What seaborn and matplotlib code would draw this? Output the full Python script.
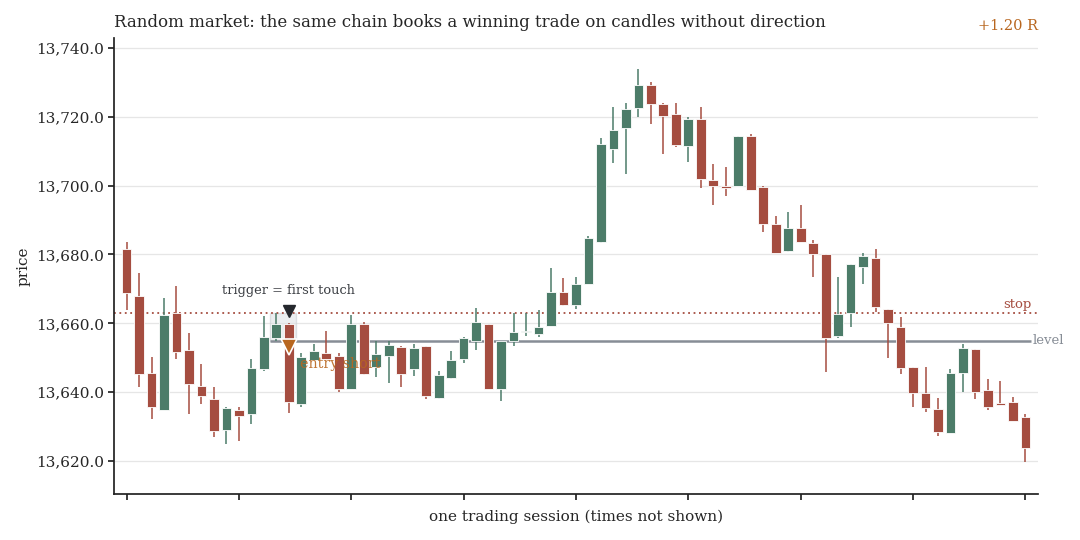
import numpy as np
import matplotlib
matplotlib.use("Agg")
import matplotlib.pyplot as plt
from matplotlib.ticker import FuncFormatter, MultipleLocator
from matplotlib.patches import Rectangle
import seaborn as sns

# -----------------------------------------------------------
# Data
# -----------------------------------------------------------
opens = [13681.6, 13667.9, 13645.5, 13634.8, 13663.1, 13652.3, 13641.9, 13638.0, 13629.0, 13634.8,
         13633.7, 13646.8, 13655.7, 13659.8, 13636.6, 13649.4, 13651.5, 13650.5, 13641.0, 13659.8,
         13647.4, 13650.6, 13653.1, 13646.6, 13653.3, 13638.4, 13644.2, 13649.7, 13655.0, 13659.8,
         13641.0, 13655.0, 13657.4, 13656.8, 13659.3, 13669.1, 13665.3, 13671.4, 13683.7, 13710.6,
         13716.7, 13722.7, 13729.2, 13723.7, 13720.8, 13711.6, 13719.3, 13701.6, 13700.0, 13699.9,
         13714.4, 13699.6, 13688.9, 13681.1, 13687.6, 13683.2, 13680.0, 13656.4, 13662.9, 13676.5,
         13678.9, 13664.1, 13658.8, 13647.2, 13639.7, 13635.1, 13628.0, 13645.5, 13652.5, 13640.6,
         13636.8, 13637.1, 13632.7]
highs = [13683.7, 13674.5, 13650.1, 13667.3, 13670.7, 13657.3, 13648.1, 13641.6, 13635.8, 13635.8,
         13649.5, 13662.1, 13662.9, 13660.2, 13651.3, 13653.9, 13657.8, 13651.3, 13662.4, 13660.5,
         13655.0, 13655.0, 13653.5, 13654.0, 13653.5, 13646.2, 13651.9, 13655.9, 13664.4, 13659.8,
         13655.0, 13662.9, 13663.1, 13663.9, 13676.0, 13673.1, 13673.6, 13685.5, 13713.9, 13722.8,
         13723.9, 13733.8, 13730.2, 13723.9, 13724.1, 13719.9, 13722.8, 13706.2, 13705.3, 13714.4,
         13714.9, 13699.9, 13691.2, 13692.4, 13694.4, 13684.2, 13680.1, 13673.4, 13677.2, 13680.3,
         13681.5, 13664.1, 13661.9, 13647.4, 13647.2, 13638.2, 13646.7, 13654.0, 13652.5, 13643.8,
         13643.3, 13638.7, 13633.7]
lows = [13663.9, 13641.4, 13632.1, 13634.8, 13649.5, 13633.6, 13636.5, 13626.9, 13625.0, 13625.9,
        13630.7, 13646.1, 13654.9, 13634.0, 13635.6, 13649.4, 13649.6, 13639.9, 13641.0, 13645.0,
        13644.3, 13642.6, 13641.6, 13644.7, 13638.0, 13638.0, 13643.9, 13648.4, 13652.3, 13640.8,
        13637.5, 13653.5, 13656.3, 13655.9, 13659.3, 13665.0, 13664.2, 13671.4, 13683.4, 13706.5,
        13703.3, 13719.9, 13717.9, 13709.1, 13711.3, 13706.8, 13699.2, 13694.4, 13697.0, 13699.9,
        13698.7, 13686.4, 13680.3, 13680.8, 13683.5, 13673.6, 13645.9, 13655.6, 13659.0, 13671.4,
        13663.4, 13649.8, 13645.3, 13635.8, 13634.3, 13627.3, 13628.0, 13639.9, 13637.9, 13634.8,
        13636.3, 13631.7, 13619.6]
closes = [13668.7, 13645.3, 13635.8, 13662.4, 13651.8, 13642.4, 13639.0, 13628.7, 13635.5, 13633.2,
          13647.1, 13656.0, 13659.8, 13637.1, 13650.3, 13652.0, 13649.6, 13640.9, 13659.8, 13645.2,
          13651.0, 13653.6, 13645.4, 13652.7, 13639.0, 13644.9, 13649.3, 13655.6, 13660.4, 13641.0,
          13655.0, 13657.5, 13657.6, 13658.9, 13669.1, 13665.3, 13671.4, 13684.7, 13712.1, 13716.2,
          13722.3, 13729.2, 13723.6, 13720.1, 13711.8, 13719.3, 13701.8, 13700.0, 13699.4, 13714.4,
          13698.7, 13689.0, 13680.3, 13687.6, 13683.5, 13680.0, 13655.6, 13662.7, 13677.1, 13679.6,
          13664.6, 13660.0, 13646.9, 13639.7, 13635.5, 13628.5, 13645.5, 13652.7, 13639.9, 13635.8,
          13636.3, 13631.7, 13623.7]

level = 13655.0
stop = 13663.0
trigger_bar = 13
entry_price = 13653.0
result_r = "+1.20 R"

# -----------------------------------------------------------
# Style
# -----------------------------------------------------------
sns.set_theme(style="ticks")
plt.rcParams['font.family'] = ['DejaVu Serif']

UP = "#4c7c69"
DOWN = "#a54d40"
ORANGE = "#b8661f"
GREY = "#878d96"

o = np.array(opens)
h = np.array(highs)
l = np.array(lows)
c = np.array(closes)
x = np.arange(len(o))
colors = [UP if cc >= oo else DOWN for oo, cc in zip(o, c)]

fig, ax = plt.subplots(figsize=(10.8, 5.4), dpi=100)
fig.subplots_adjust(left=0.1056, right=0.961, top=0.9296, bottom=0.0852)

# wicks + bodies
ax.vlines(x, l, h, colors=colors, linewidth=1.1, zorder=3)
body_lo = np.minimum(o, c)
body_h = np.maximum(np.abs(c - o), 0.35)
ax.bar(x, body_h, bottom=body_lo, width=0.78, color=colors,
       edgecolor="white", linewidth=0.6, zorder=4)

# levels
ax.axhline(stop, color=DOWN, linestyle=(0, (1, 2)), linewidth=1.3, zorder=2)
ax.text(72.5, stop + 0.6, "stop", color=DOWN, fontsize=9.5, ha="right", va="bottom")
ax.hlines(level, trigger_bar - 1.5, 72.45, color=GREY, linewidth=1.8, zorder=2)
ax.text(72.6, level, "level", color=GREY, fontsize=9.5, ha="left", va="center")

# trigger highlight
ax.add_patch(Rectangle((trigger_bar - 1.5, level), 2.05, stop - level,
                       facecolor="#dde0e4", alpha=0.55, edgecolor="#c9cdd2",
                       linewidth=1.0, zorder=1))
ax.plot(trigger_bar, stop + 0.6, marker="v", color="#25282d", markersize=8, zorder=6)
ax.text(trigger_bar, stop + 4.5, "trigger = first touch", color="#3a3d42",
        fontsize=9.3, ha="center", va="bottom")

# entry
ax.text(trigger_bar + 0.9, entry_price - 4.8, "entry short", color=ORANGE,
        fontsize=10.3, ha="left", va="center", alpha=0.9, zorder=5)
ax.plot(trigger_bar, entry_price, marker="v", color=ORANGE, markersize=12,
        markeredgecolor="white", markeredgewidth=1.2, zorder=6)

# axes
ax.set_xlim(-1, 73)
ax.set_ylim(13610.4, 13742.9)
ax.xaxis.set_major_locator(MultipleLocator(9))
ax.set_xticklabels([])
ax.yaxis.set_major_locator(MultipleLocator(20))
ax.yaxis.set_major_formatter(FuncFormatter(lambda v, p: f"{v:,.1f}"))
ax.grid(axis="y", color="#e6e6e6", linewidth=0.9)
ax.set_axisbelow(True)
ax.tick_params(labelsize=11, length=4, color="#222222")
for s in ["left", "bottom"]:
    ax.spines[s].set_color("#222222")
sns.despine(ax=ax)

ax.set_ylabel("price", fontsize=11)
ax.set_xlabel("one trading session (times not shown)", fontsize=11)
ax.set_title("Random market: the same chain books a winning trade on candles without direction",
             loc="left", fontsize=12, pad=8)
ax.text(1.0, 1.012, result_r, transform=ax.transAxes, color=ORANGE,
        fontsize=10.5, ha="right", va="bottom")

plt.savefig("out.png", dpi=100)
